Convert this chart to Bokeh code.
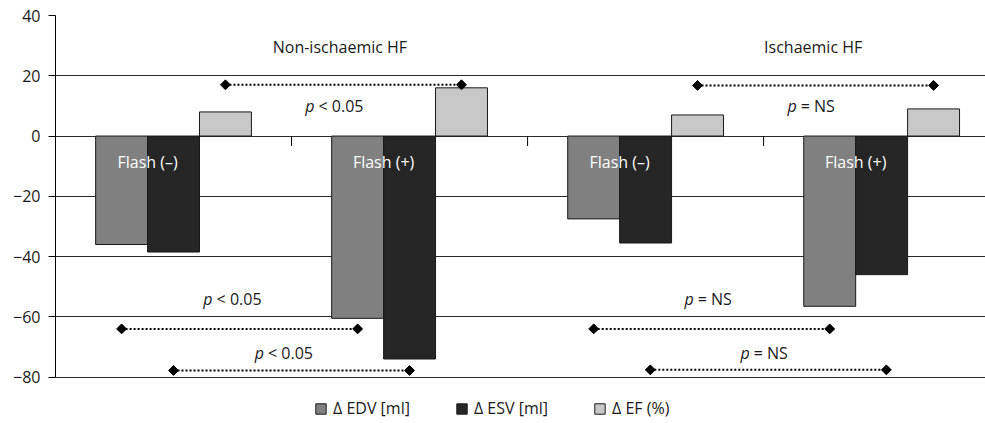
from bokeh.plotting import figure
from bokeh.models import Range1d, FixedTicker, Legend, LegendItem, ColumnDataSource
from bokeh.core.properties import value
from bokeh.embed import file_html
from bokeh.resources import INLINE
import math

# ---- data ----
groups = ["Non-ischaemic HF", "Ischaemic HF"]
flash_labels = ["Flash (–)", "Flash (+)", "Flash (–)", "Flash (+)"]
series = ["Δ EDV [ml]", "Δ ESV [ml]", "Δ EF (%)"]
edv = [-36.0, -60.5, -27.5, -56.5]
esv = [-38.5, -74.0, -35.5, -46.0]
ef = [8.0, 16.0, 7.0, 9.0]
y_ticks = [-80, -60, -40, -20, 0, 20, 40]
y_tick_labels = ["−80", "−60", "−40", "−20", "0", "20", "40"]

# significance brackets
br_x0 = [0.72, 2.72, 0.28, 0.50, 2.28, 2.52]
br_x1 = [1.72, 3.72, 1.28, 1.50, 3.28, 3.52]
br_y = [17.0, 16.8, -64.0, -77.8, -64.0, -77.6]
p_rest = ["< 0.05", "= NS", "< 0.05", "< 0.05", "= NS", "= NS"]
p_cx = [1.195, 3.216, 0.763, 0.981, 2.78, 3.017]
p_cy = [9.9, 9.9, -54.2, -72.1, -54.2, -72.1]

colors = ["#808080", "#262626", "#c8c8c8"]
FONT = "Open Sans"
FS = "16px"

cats = list(range(len(edv)))
offsets = [-0.22, 0.0, 0.22]
bw = 0.22
boundaries = [c for c in cats[1:]]

p = figure(width=985, height=423, output_backend="svg", toolbar_location=None,
           x_range=Range1d(0, 3.94), y_range=Range1d(-95.4, 40),
           x_axis_location=None,
           min_border_left=55, min_border_right=0, min_border_top=15,
           min_border_bottom=0)
p.outline_line_color = None
p.background_fill_color = "white"
p.border_fill_color = "white"

# y axis
p.yaxis.bounds = (-80, 40)
p.yaxis.ticker = FixedTicker(ticks=y_ticks)
p.yaxis.major_label_overrides = {t: l for t, l in zip(y_ticks, y_tick_labels)}
p.yaxis.major_tick_out = 7
p.yaxis.major_tick_in = 0
p.yaxis.minor_tick_line_color = None
p.yaxis.axis_line_color = "black"
p.yaxis.major_tick_line_color = "black"
p.yaxis.major_label_standoff = 8
p.yaxis.major_label_text_font = FONT
p.yaxis.major_label_text_font_size = FS
p.yaxis.major_label_text_color = "#1a1a1a"

p.xgrid.grid_line_color = None
p.ygrid.ticker = FixedTicker(ticks=y_ticks)
p.ygrid.grid_line_color = "#2a2a2a"
p.ygrid.grid_line_width = 1

# category-boundary tick marks on the zero line
p.segment(x0=boundaries, y0=[0] * len(boundaries), x1=boundaries,
          y1=[-3.3] * len(boundaries), line_color="black", line_width=1)

# bars
renderers = []
for s, vals, off, col in zip(series, [edv, esv, ef], offsets, colors):
    src = ColumnDataSource(dict(x=[c + 0.5 + off for c in cats], top=vals))
    r = p.vbar(x="x", top="top", bottom=0, width=bw, source=src,
               fill_color=col, line_color="#1a1a1a", line_width=1)
    renderers.append(r)

# Flash labels (white, over bars)
p.text(x=[c + 0.5 - 0.11 for c in cats], y=[-8.5] * len(cats), text=flash_labels,
       text_color="white", text_font=value(FONT), text_font_size=FS,
       text_align="center", text_baseline="middle")

# group titles
p.text(x=[1.205, 3.21], y=[29.4, 29.4], text=groups, text_color="#1a1a1a",
       text_font=value(FONT), text_font_size=FS,
       text_align="center", text_baseline="middle")

# brackets
p.segment(x0=br_x0, y0=br_y, x1=br_x1, y1=br_y, line_color="black",
          line_width=2, line_dash="2 2")
p.scatter(x=br_x0 + br_x1, y=br_y + br_y, marker="square", size=7,
          angle=math.pi / 4, fill_color="black", line_color="black")

# p-value labels: italic p + regular rest
anchor = [cx - (0.0975 if "0.05" in r else 0.076) for cx, r in zip(p_cx, p_rest)]
p.text(x=anchor, y=p_cy, text=["p"] * len(anchor), text_color="#1a1a1a",
       text_font=value(FONT), text_font_size=FS, text_font_style="italic",
       text_align="right", text_baseline="middle")
p.text(x=anchor, y=p_cy, text=p_rest, text_color="#1a1a1a",
       text_font=value(FONT), text_font_size=FS, x_offset=4,
       text_align="left", text_baseline="middle")

# legend (inside the lower strip of the frame, below the -80 line)
legend = Legend(items=[LegendItem(label=s, renderers=[r]) for s, r in zip(series, renderers)],
                orientation="horizontal", location=(259, 4),
                glyph_width=13, glyph_height=13, label_standoff=6, spacing=45,
                padding=0, margin=0, border_line_color=None,
                background_fill_alpha=0,
                label_text_font=FONT, label_text_font_size=FS,
                label_text_color="#1a1a1a")
p.add_layout(legend, "center")

open("out.html", "w").write(file_html(p, INLINE))
